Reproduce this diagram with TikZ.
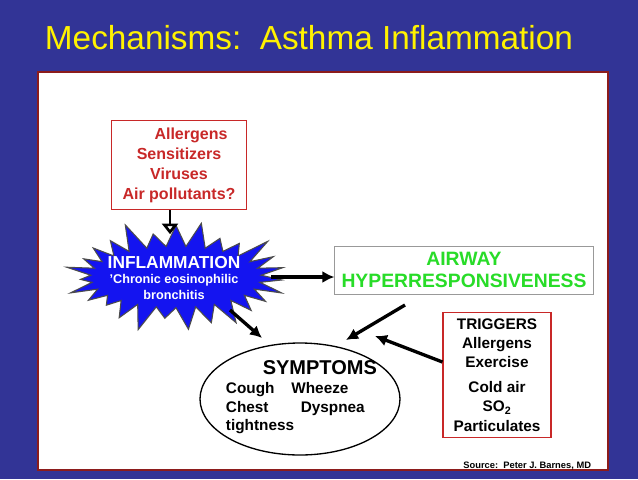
\documentclass[tikz,border=0pt]{standalone}
\usepackage{fontspec}
\setmainfont{Liberation Sans}
\usetikzlibrary{arrows.meta,shapes.symbols,shapes.geometric}
\definecolor{slideblue}{RGB}{50,52,150}
\definecolor{boxred}{RGB}{200,40,40}
\definecolor{airgreen}{RGB}{40,220,40}
\definecolor{burstblue}{RGB}{20,20,240}
\begin{document}
\begin{tikzpicture}[
    x=0.75pt, y=-0.75pt,
    >=Latex,
    thick,
    % styles
    redbox/.style={draw=boxred, fill=white, align=center, inner sep=1pt, font=\bfseries\fontsize{12}{15}\selectfont},
    arr/.style={line width=2.5pt, -{Latex[length=9pt,width=9pt]}}
]
    % --- background ---
    \fill[slideblue] (0,0) rectangle (638,479);
    \draw[fill=white, draw=boxred!70!black, line width=1pt] (38,72) rectangle (608,470);
    \node[anchor=west, text=yellow, font=\fontsize{25}{30}\selectfont] (title) at (40,38) {Mechanisms:\ \ Asthma Inflammation};

    % --- causes ---
    \node[redbox, text=boxred, minimum width=101pt, minimum height=67pt] (causes) at (179,165)
        {\hspace{1.5em}Allergens\\Sensitizers\\Viruses\\Air pollutants?};

    % --- inflammation ---
    \node[starburst, starburst points=27, starburst point height=22pt, fill=burstblue, draw=black!70,
        minimum width=172pt, minimum height=90pt, inner sep=0pt] (burst) at (176,277) {};
    \node[text=white, align=center, font=\bfseries\fontsize{9.5}{11.5}\selectfont] (inflam) at (174,278)
        {{\fontsize{13}{15}\selectfont INFLAMMATION}\\'Chronic eosinophilic\\bronchitis};

    % --- airway ---
    \node[draw=black!40, thin, fill=white, text=airgreen, align=center, minimum width=194pt, minimum height=36pt,
        inner sep=1pt, font=\bfseries\fontsize{14.5}{17}\selectfont] (airway) at (464,270) {AIRWAY\\HYPERRESPONSIVENESS};

    % --- symptoms ---
    \node[draw=black, ellipse, line width=1pt, minimum width=150pt, minimum height=84pt] (symptoms) at (300,399) {};
    \node[anchor=north west, font=\bfseries\fontsize{11.5}{14}\selectfont, align=left] (symtext) at (221,356)
        {\hspace{2.4em}{\fontsize{15}{17}\selectfont SYMPTOMS}\\Cough\hspace{1.1em}Wheeze\\Chest\hspace{2.1em}Dyspnea\\tightness};

    % --- triggers ---
    \node[redbox, minimum width=81pt, minimum height=94pt, font=\bfseries\fontsize{11.5}{14.5}\selectfont] (triggers) at (497,375)
        {TRIGGERS\\Allergens\\Exercise\\[4pt]Cold air\\SO\textsubscript{2}\\Particulates};

    \node[anchor=east, font=\bfseries\fontsize{7}{8}\selectfont] (source) at (596,466) {Source:\ \ Peter J. Barnes, MD};

    % --- arrows ---
    \draw[line width=2pt, -{Triangle[open, fill=white, length=8pt, width=12pt]}] (causes.south) ++(-9,0) -- ++(0,24);
    \draw[arr] (burst.east) -- (airway.west |- burst.east);
    \draw[arr] (405,305) -- (346,340);
    \draw[arr] (triggers.west) ++(0,-13) -- (375,336);
    \draw[arr] (230,310) -- (262,338);
\end{tikzpicture}
\end{document}
